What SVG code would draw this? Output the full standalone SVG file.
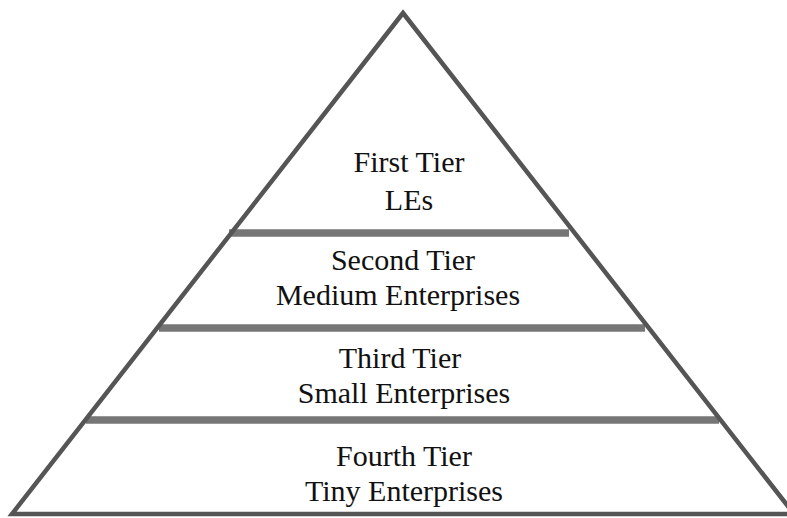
<svg xmlns="http://www.w3.org/2000/svg" width="787" height="518" viewBox="0 0 787 518">
<style>
.outline{fill:none;stroke:#555555;stroke-width:4.5;stroke-linejoin:miter}
.tier{stroke:#767676;stroke-width:7.5}
.lbl{font-family:"Liberation Serif","Times New Roman",serif;font-size:30px;fill:#111111;text-anchor:middle}
</style>
<rect width="787" height="518" fill="#ffffff"/>
<g id="connectors">
<line class="tier" x1="229" y1="233" x2="569" y2="233"/>
<line class="tier" x1="159" y1="328" x2="645" y2="328"/>
<line class="tier" x1="86" y1="420" x2="719" y2="420"/>
</g>
<g id="pyramid">
<polygon class="outline" points="403,13 12,514 794,514"/>
</g>
<g id="tier1">
<text class="lbl" x="409" y="172">First Tier</text>
<text class="lbl" x="409" y="210">LEs</text>
</g>
<g id="tier2">
<text class="lbl" x="403" y="270">Second Tier</text>
<text class="lbl" x="398" y="305">Medium Enterprises</text>
</g>
<g id="tier3">
<text class="lbl" x="400" y="368">Third Tier</text>
<text class="lbl" x="404" y="403">Small Enterprises</text>
</g>
<g id="tier4">
<text class="lbl" x="404" y="466">Fourth Tier</text>
<text class="lbl" x="404" y="501">Tiny Enterprises</text>
</g>
</svg>
